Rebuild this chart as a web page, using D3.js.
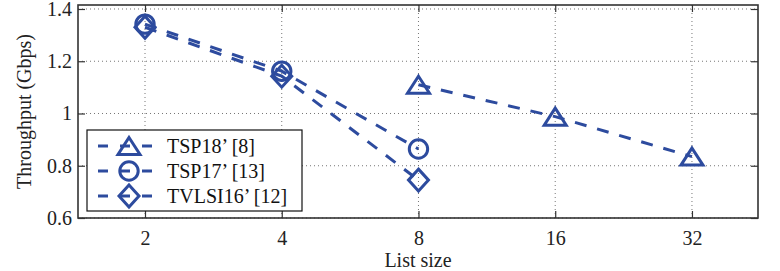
<!DOCTYPE html>
<html><head><meta charset="utf-8">
<script src="https://cdn.jsdelivr.net/npm/d3@7"></script>
<style>body{margin:0;background:#fff}svg{display:block}</style>
</head><body>
<script>
const xTicks = [2, 4, 8, 16, 32];
const yTicks = [0.6, 0.8, 1.0, 1.2, 1.4];
const yTickLabels = ["0.6", "0.8", "1", "1.2", "1.4"];
const seriesNames = ["TSP18\u2019 [8]", "TSP17\u2019 [13]", "TVLSI16\u2019 [12]"];
const seriesMarkers = ["triangle", "circle", "diamond"];
const tsp18X = [8, 16, 32];
const tsp18Y = [1.11, 0.988, 0.835];
const tsp17X = [2, 4, 8];
const tsp17Y = [1.342, 1.162, 0.864];
const tvlsi16X = [2, 4, 8];
const tvlsi16Y = [1.33, 1.143, 0.745];

const W = 780, H = 271;
const L = 78, R = 758, T = 5, B = 218;
const color = "#2d4b9e";
const font = "Liberation Serif";

const svg = d3.select("body").append("svg").attr("width", W).attr("height", H);
const x = d3.scaleLog().base(2).domain([Math.pow(2, 0.51), Math.pow(2, 5.483)]).range([L, R]);
const y = d3.scaleLinear().domain([0.6, 1.4153]).range([B, T]);

// grid
const g = svg.append("g");
g.selectAll(".gx").data(xTicks).enter().append("line")
  .attr("x1", d => x(d)).attr("x2", d => x(d)).attr("y1", T).attr("y2", B)
  .attr("stroke", "#666").attr("stroke-width", 0.9).attr("stroke-dasharray", "1,3");
g.selectAll(".gy").data(yTicks).enter().append("line")
  .attr("x1", L).attr("x2", R).attr("y1", d => y(d)).attr("y2", d => y(d))
  .attr("stroke", "#666").attr("stroke-width", 0.9).attr("stroke-dasharray", "1,3");

// axes with inward ticks
const tl = 7;
const xAxisB = d3.axisBottom(x).tickValues(xTicks).tickFormat(d3.format("d")).tickSize(-tl).tickPadding(13);
const xAxisT = d3.axisTop(x).tickValues(xTicks).tickFormat("").tickSize(-tl);
const yAxisL = d3.axisLeft(y).tickValues(yTicks).tickFormat((d, i) => yTickLabels[i]).tickSize(-tl).tickPadding(6);
const yAxisR = d3.axisRight(y).tickValues(yTicks).tickFormat("").tickSize(-tl);

function styleAxis(sel) {
  sel.attr("font-family", null).attr("font-size", null);
  sel.select(".domain").remove();
  sel.selectAll(".tick line").attr("stroke", "#333").attr("stroke-width", 1.2);
  sel.selectAll("text").style("font-family", font).style("font-size", "20px").attr("fill", "#222");
}
svg.append("g").attr("transform", `translate(0,${B})`).call(xAxisB).call(styleAxis);
svg.append("g").attr("transform", `translate(0,${T})`).call(xAxisT).call(styleAxis);
svg.append("g").attr("transform", `translate(${L},0)`).call(yAxisL).call(styleAxis);
svg.append("g").attr("transform", `translate(${R},0)`).call(yAxisR).call(styleAxis);

// frame
svg.append("rect").attr("x", L).attr("y", T).attr("width", R - L).attr("height", B - T)
  .attr("fill", "none").attr("stroke", "#333").attr("stroke-width", 1.6);

// axis labels
svg.append("text").attr("x", (L + R) / 2).attr("y", 267).attr("text-anchor", "middle")
  .style("font-family", font).style("font-size", "20px").attr("fill", "#222").text("List size");
svg.append("text").attr("transform", `translate(31,${(T + B) / 2}) rotate(-90)`).attr("text-anchor", "middle")
  .style("font-family", font).style("font-size", "20px").attr("fill", "#222").text("Throughput (Gbps)");

function markerPath(type) {
  if (type === "triangle") return "M0,-8.5L11,8.5L-11,8.5Z";
  if (type === "diamond") return "M0,-11L10,0L0,11L-10,0Z";
  return null;
}
function drawMarker(sel, type, cx, cy) {
  if (type === "circle") {
    sel.append("circle").attr("cx", cx).attr("cy", cy).attr("r", 9.2)
      .attr("fill", "none").attr("stroke", color).attr("stroke-width", 3);
  } else {
    sel.append("path").attr("d", markerPath(type)).attr("transform", `translate(${cx},${cy})`)
      .attr("fill", "none").attr("stroke", color).attr("stroke-width", 3).attr("stroke-linejoin", "miter");
  }
}

const series = [
  { xs: tsp18X, ys: tsp18Y },
  { xs: tsp17X, ys: tsp17Y },
  { xs: tvlsi16X, ys: tvlsi16Y }
];
const line = d3.line().x(d => x(d[0])).y(d => y(d[1]));
const plot = svg.append("g");
series.forEach((s, i) => {
  const pts = s.xs.map((v, j) => [v, s.ys[j]]);
  plot.append("path").attr("d", line(pts)).attr("fill", "none").attr("stroke", color)
    .attr("stroke-width", 3).attr("stroke-dasharray", "12,11");
  pts.forEach(p => drawMarker(plot, seriesMarkers[i], x(p[0]), y(p[1])));
});

// legend
const lg = svg.append("g");
lg.append("rect").attr("x", 87).attr("y", 130).attr("width", 215).attr("height", 81)
  .attr("fill", "#fff").attr("stroke", "#111").attr("stroke-width", 1.2);
seriesNames.forEach((name, i) => {
  const cy = 146 + i * 25;
  lg.append("line").attr("x1", 98).attr("x2", 160).attr("y1", cy).attr("y2", cy)
    .attr("stroke", color).attr("stroke-width", 3).attr("stroke-dasharray", "10,12");
  drawMarker(lg, seriesMarkers[i], 129, cy);
  lg.append("text").attr("x", 167).attr("y", cy + 7).style("font-family", font).style("font-size", "20px")
    .attr("fill", "#111").text(name);
});
</script>
</body></html>
